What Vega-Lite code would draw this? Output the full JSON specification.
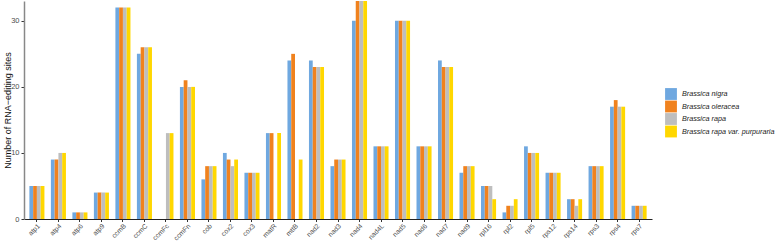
{
  "$schema": "https://vega.github.io/schema/vega-lite/v6.json",
  "autosize": {"type": "none"},
  "padding": {"left": 24, "top": 1, "right": 125, "bottom": 24},
  "width": 628,
  "height": 218,
  "background": "white",
  "config": {"view": {"stroke": null}, "font": "Liberation Sans"},
  "data": {"values": [
    {"gene":"atp1","a":5,"b":5,"c":5,"d":5},
    {"gene":"atp4","a":9,"b":9,"c":10,"d":10},
    {"gene":"atp6","a":1,"b":1,"c":1,"d":1},
    {"gene":"atp9","a":4,"b":4,"c":4,"d":4},
    {"gene":"ccmB","a":32,"b":32,"c":32,"d":32},
    {"gene":"ccmC","a":25,"b":26,"c":26,"d":26},
    {"gene":"ccmFc","a":0,"b":0,"c":13,"d":13},
    {"gene":"ccmFn","a":20,"b":21,"c":20,"d":20},
    {"gene":"cob","a":6,"b":8,"c":8,"d":8},
    {"gene":"cox2","a":10,"b":9,"c":8,"d":9},
    {"gene":"cox3","a":7,"b":7,"c":7,"d":7},
    {"gene":"matR","a":13,"b":13,"c":0,"d":13},
    {"gene":"mttB","a":24,"b":25,"c":0,"d":9},
    {"gene":"nad2","a":24,"b":23,"c":23,"d":23},
    {"gene":"nad3","a":8,"b":9,"c":9,"d":9},
    {"gene":"nad4","a":30,"b":33,"c":33,"d":33},
    {"gene":"nad4L","a":11,"b":11,"c":11,"d":11},
    {"gene":"nad5","a":30,"b":30,"c":30,"d":30},
    {"gene":"nad6","a":11,"b":11,"c":11,"d":11},
    {"gene":"nad7","a":24,"b":23,"c":23,"d":23},
    {"gene":"nad9","a":7,"b":8,"c":8,"d":8},
    {"gene":"rpl16","a":5,"b":5,"c":5,"d":3},
    {"gene":"rpl2","a":1,"b":2,"c":2,"d":3},
    {"gene":"rpl5","a":11,"b":10,"c":10,"d":10},
    {"gene":"rps12","a":7,"b":7,"c":7,"d":7},
    {"gene":"rps14","a":3,"b":3,"c":2,"d":3},
    {"gene":"rps3","a":8,"b":8,"c":8,"d":8},
    {"gene":"rps4","a":17,"b":18,"c":17,"d":17},
    {"gene":"rps7","a":2,"b":2,"c":2,"d":2}
  ]},
  "transform": [
    {"fold": ["a","b","c","d"], "as": ["key","sites"]},
    {"lookup": "key", "from": {"data": {"values": [
      {"key":"a","species":"Brassica nigra"},
      {"key":"b","species":"Brassica oleracea"},
      {"key":"c","species":"Brassica rapa"},
      {"key":"d","species":"Brassica rapa var. purpuraria"}
    ]}, "key": "key", "fields": ["species"]}}
  ],
  "mark": {"type": "bar"},
  "encoding": {
    "x": {"field": "gene", "type": "nominal", "sort": null,
      "scale": {"paddingInner": 0.3, "paddingOuter": 0.25},
      "axis": {"title": null, "labelAngle": -45, "labelAlign": "right", "labelBaseline": "top",
        "labelFontSize": 6.8, "labelColor": "#4d4d4d", "domainColor": "#222", "tickColor": "#333",
        "tickSize": 2.5, "labelPadding": 1}},
    "xOffset": {"field": "species", "type": "nominal"},
    "y": {"field": "sites", "type": "quantitative",
      "scale": {"domain": [0, 33], "nice": false, "zero": true},
      "axis": {"title": "Number of RNA−editing sites", "values": [0,10,20,30], "grid": false,
        "titleFontSize": 9, "titleFontWeight": "normal", "titleColor": "#111",
        "titleX": -17, "titleY": 109, "titleAlign": "center", "titleBaseline": "middle", "titleAngle": -90,
        "labelFontSize": 7.5, "labelColor": "#4d4d4d", "domainColor": "#888", "domainWidth": 1.5,
        "tickColor": "#333", "tickSize": 3, "labelPadding": 2}},
    "color": {"field": "species", "type": "nominal",
      "scale": {"domain": ["Brassica nigra","Brassica oleracea","Brassica rapa","Brassica rapa var. purpuraria"],
        "range": ["#6fa8e0","#f0821e","#bebebe","#ffd700"]},
      "legend": {"title": null, "orient": "none", "legendX": 641, "legendY": 87,
        "symbolType": "square", "symbolSize": 140, "symbolStrokeWidth": 0, "symbolOpacity": 1,
        "labelFontStyle": "italic", "labelFontSize": 7.2, "labelColor": "#222", "rowPadding": 0.5,
        "labelOffset": 5}}
  }
}
